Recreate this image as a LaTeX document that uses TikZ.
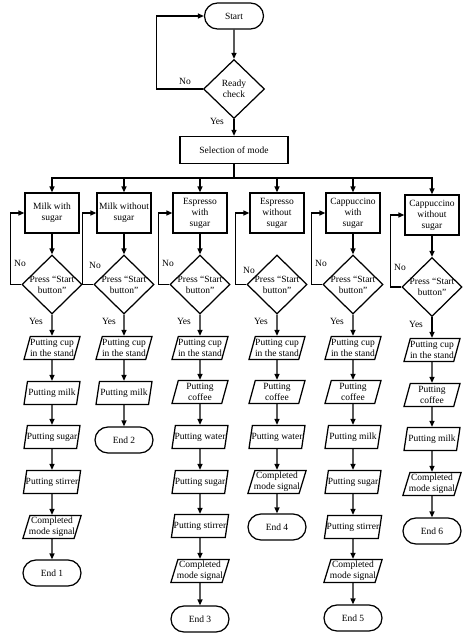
\documentclass[tikz,border=0pt]{standalone}
\usepackage{fontspec}
\setmainfont{Liberation Serif}
\usetikzlibrary{shapes.geometric,shapes.misc,arrows.meta}
\begin{document}
\begin{tikzpicture}[x=1pt,y=-1pt,
  every node/.style={font=\fontsize{9.5}{11}\selectfont},
  line width=1.25pt,
  arr/.style={-{Triangle[length=6pt,width=5pt]}},
  term/.style={rounded rectangle, draw, minimum width=60pt, minimum height=26pt, inner sep=1pt},
  proc/.style={rectangle, draw, align=center, minimum width=54pt, minimum height=40pt, inner sep=0.5pt},
  dec/.style={diamond, draw, aspect=1, minimum width=60pt, minimum height=59pt, inner sep=-3pt, align=center},
  io/.style={trapezium, trapezium left angle=72, trapezium right angle=108, trapezium stretches body, draw, align=center, minimum width=56pt, minimum height=23pt, inner xsep=-1pt, inner ysep=1pt},
  lbl/.style={inner sep=0pt}
]
\useasboundingbox[fill=white] (0,0) rectangle (474,635);

% top
\node[term, minimum width=61pt] (start) at (234,16) {Start};
\node[dec, minimum width=61pt] (rc) at (234,89) {Ready\\check};
\node[proc, minimum width=108pt, minimum height=27pt] (sel) at (234,150) {Selection of mode};
\coordinate (bus) at (234,178);
\node[lbl] (no0) at (185,81) {No};
\node[lbl] (yes0) at (217,121) {Yes};

% mode boxes
\node[proc] (m1) at (52,213) {Milk with\\sugar};
\node[proc] (m2) at (124,213) {Milk without\\sugar};
\node[proc] (m3) at (200,213) {Espresso\\with\\sugar};
\node[proc] (m4) at (277,213) {Espresso\\without\\sugar};
\node[proc] (m5) at (353,213) {Cappuccino\\with\\sugar};
\node[proc] (m6) at (432,215) {Cappuccino\\without\\sugar};

% decisions
\node[dec] (d1) at (52,284.5) {Press “Start\\button”};
\node[dec] (d2) at (124,284.5) {Press “Start\\button”};
\node[dec] (d3) at (200,284.5) {Press “Start\\button”};
\node[dec] (d4) at (277,284.5) {Press “Start\\button”};
\node[dec] (d5) at (353,284.5) {Press “Start\\button”};
\node[dec] (d6) at (432,287) {Press “Start\\button”};

% No / Yes labels
\node[lbl] (no1) at (20,263.5) {No};
\node[lbl] (no2) at (95,265) {No};
\node[lbl] (no3) at (168,263.5) {No};
\node[lbl] (no4) at (249,270) {No};
\node[lbl] (no5) at (321,263.5) {No};
\node[lbl] (no6) at (400,267) {No};
\node[lbl] (yes1) at (36,321.5) {Yes};
\node[lbl] (yes2) at (109,321.5) {Yes};
\node[lbl] (yes3) at (184,321.5) {Yes};
\node[lbl] (yes4) at (261,321.5) {Yes};
\node[lbl] (yes5) at (337,321.5) {Yes};
\node[lbl] (yes6) at (416,324) {Yes};

% column 1
\node[io] (a1) at (52,348) {Putting cup\\in the stand};
\node[io] (b1) at (52,393) {Putting milk};
\node[io] (c1) at (52,437) {Putting sugar};
\node[io] (e1) at (52,482) {Putting stirrer};
\node[io] (f1) at (52,527) {Completed\\mode signal};
\node[term] (end1) at (52,573) {End 1};

% column 2
\node[io] (a2) at (124,348) {Putting cup\\in the stand};
\node[io] (b2) at (124,393) {Putting milk};
\node[term] (end2) at (124,440) {End 2};

% column 3
\node[io] (a3) at (200,348) {Putting cup\\in the stand};
\node[io] (b3) at (200,392) {Putting\\coffee};
\node[io] (c3) at (200,437) {Putting water};
\node[io] (e3) at (200,482) {Putting sugar};
\node[io] (f3) at (200,526) {Putting stirrer};
\node[io] (g3) at (200,571) {Completed\\mode signal};
\node[term] (end3) at (200,619) {End 3};

% column 4
\node[io] (a4) at (277,348) {Putting cup\\in the stand};
\node[io] (b4) at (277,392) {Putting\\coffee};
\node[io] (c4) at (277,437) {Putting water};
\node[io] (e4) at (277,482) {Completed\\mode signal};
\node[term] (end4) at (277,527) {End 4};

% column 5
\node[io] (a5) at (353,348) {Putting cup\\in the stand};
\node[io] (b5) at (353,392) {Putting\\coffee};
\node[io] (c5) at (353,437) {Putting milk};
\node[io] (e5) at (353,482) {Putting sugar};
\node[io] (f5) at (353,527) {Putting stirrer};
\node[io] (g5) at (353,571) {Completed\\mode signal};
\node[term] (end5) at (353,618) {End 5};

% column 6
\node[io] (a6) at (432,350) {Putting cup\\in the stand};
\node[io] (b6) at (432,395) {Putting\\coffee};
\node[io] (c6) at (432,439) {Putting milk};
\node[io] (e6) at (432,484) {Completed\\mode signal};
\node[term] (end6) at (432,531) {End 6};

% top connectors
\draw[arr] (start) -- (rc);
\draw[arr] (rc) -- (sel);
\draw[arr] (rc.west) -- ++(-46.5,0) |- (start.west);
\draw (sel) -- (bus);
\foreach \m in {m1,m2,m3,m4,m5,m6} {\draw[arr] (bus) -| (\m.north);}

% loops
\foreach \k in {1,...,6} {\draw[arr] (d\k.west) -- ++(-11,0) |- (m\k.west);}

% box to decision (none in column 4)
\foreach \k in {1,2,3,5,6} {\draw[arr] (m\k) -- (d\k);}
% decision to first step
\foreach \k in {1,...,6} {\draw[arr] (d\k) -- (a\k);}

% chains
\draw[arr] (a1) -- (b1); \draw[arr] (b1) -- (c1); \draw[arr] (c1) -- (e1); \draw[arr] (e1) -- (f1); \draw[arr] (f1) -- (end1);
\draw[arr] (a2) -- (b2); \draw[arr] (b2) -- (end2);
\draw[arr] (a3) -- (b3); \draw[arr] (b3) -- (c3); \draw[arr] (c3) -- (e3); \draw[arr] (e3) -- (f3); \draw[arr] (f3) -- (g3); \draw[arr] (g3) -- (end3);
\draw[arr] (a4) -- (b4); \draw[arr] (b4) -- (c4); \draw[arr] (c4) -- (e4); \draw[arr] (e4) -- (end4);
\draw[arr] (a5) -- (b5); \draw[arr] (b5) -- (c5); \draw[arr] (c5) -- (e5); \draw[arr] (e5) -- (f5); \draw[arr] (f5) -- (g5); \draw[arr] (g5) -- (end5);
\draw[arr] (a6) -- (b6); \draw[arr] (b6) -- (c6); \draw[arr] (c6) -- (e6); \draw[arr] (e6) -- (end6);
\end{tikzpicture}
\end{document}
